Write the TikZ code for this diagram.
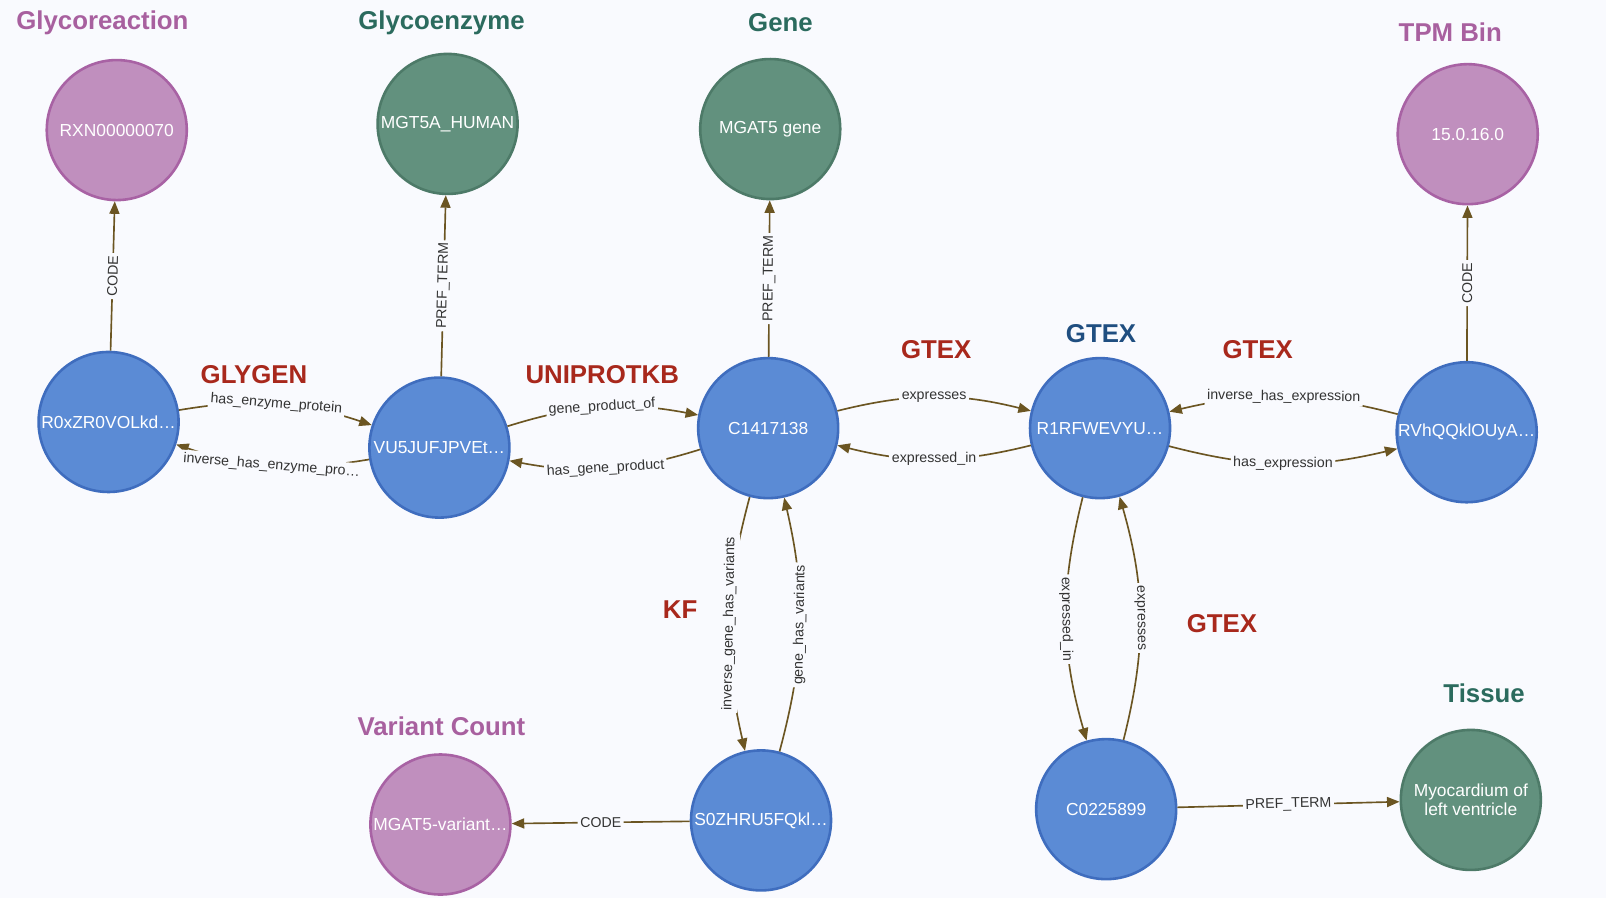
\documentclass[tikz,border=0pt]{standalone}
\usepackage{fontspec}
\setmainfont{Liberation Sans}
\usetikzlibrary{arrows.meta}
\definecolor{bgc}{HTML}{F9FAFE}
\definecolor{bfill}{HTML}{5B8BD5}
\definecolor{bdraw}{HTML}{3F6DBE}
\definecolor{pfill}{HTML}{C08FBE}
\definecolor{pdraw}{HTML}{A862A4}
\definecolor{gfill}{HTML}{62917E}
\definecolor{gdraw}{HTML}{4D7A68}
\definecolor{edgec}{HTML}{6B5522}
\definecolor{tred}{HTML}{A8281C}
\definecolor{tpurple}{HTML}{A8609F}
\definecolor{tteal}{HTML}{2B6B5E}
\definecolor{tblue}{HTML}{1F4E80}
\definecolor{labc}{HTML}{333333}
\tikzset{
  circ/.style={circle, minimum size=140pt, inner sep=0pt, line width=2.6pt, text=white,
    font=\fontsize{17.4}{19.5}\selectfont, align=center},
  bnode/.style={circ, fill=bfill, draw=bdraw},
  pnode/.style={circ, fill=pfill, draw=pdraw},
  gnode/.style={circ, fill=gfill, draw=gdraw},
  ttl/.style={font=\fontsize{25.8}{28}\selectfont\bfseries, inner sep=0pt},
  edge/.style={draw=edgec, line width=1.65pt, -{Triangle[length=12.5pt,width=10pt]}},
  elab/.style={fill=bgc, text=labc, font=\fontsize{14.2}{16}\selectfont, inner sep=2.5pt, sloped}
}
\begin{document}
\begin{tikzpicture}[x=1.0242pt,y=1.0242pt]
\useasboundingbox (0,0) rectangle (1568,-876.8);
\fill[bgc] (0,0) rectangle (1568,-876.8);

% nodes
\node[pnode] (rxn) at (114,-127) {RXN00000070};
\node[gnode] (mgt) at (437,-121) {MGT5A\_HUMAN};
\node[gnode] (gene) at (752,-126) {MGAT5 gene};
\node[pnode] (tpm) at (1433,-131) {15.0.16.0};
\node[bnode] (r0x) at (106,-412) {R0xZR0VOLkd…};
\node[bnode] (vu5) at (429,-437) {VU5JUFJPVEt…};
\node[bnode] (c14) at (750,-418) {C1417138};
\node[bnode] (r1r) at (1074,-418) {R1RFWEVYU…};
\node[bnode] (rvh) at (1432,-422) {RVhQQklOUyA…};
\node[bnode] (s0z) at (743,-801) {S0ZHRU5FQkl…};
\node[pnode] (var) at (430,-805) {MGAT5-variant…};
\node[bnode] (c02) at (1080,-790) {C0225899};
\node[gnode] (myo) at (1436,-781) {Myocardium of\\left ventricle};

% titles
\node[ttl, text=tpurple] (t1) at (100,-22) {Glycoreaction};
\node[ttl, text=tteal] (t2) at (431,-22) {Glycoenzyme};
\node[ttl, text=tteal] (t3) at (762,-22) {Gene};
\node[ttl, text=tpurple] (t4) at (1416,-31) {TPM Bin};
\node[ttl, text=tred] (t5) at (248,-366) {GLYGEN};
\node[ttl, text=tred] (t6) at (588,-366) {UNIPROTKB};
\node[ttl, text=tred] (t7) at (914,-341) {GTEX};
\node[ttl, text=tblue] (t8) at (1075,-326) {GTEX};
\node[ttl, text=tred] (t9) at (1228,-341) {GTEX};
\node[ttl, text=tred] (t10) at (664,-595) {KF};
\node[ttl, text=tred] (t11) at (1193,-609) {GTEX};
\node[ttl, text=tpurple] (t12) at (431,-709) {Variant Count};
\node[ttl, text=tteal] (t13) at (1449,-677) {Tissue};

% straight edges
\draw[edge] (r0x) -- node[elab] {CODE} (rxn);
\draw[edge] (vu5) -- node[elab] {PREF\_TERM} (mgt);
\draw[edge] (c14) -- node[elab] {PREF\_TERM} (gene);
\draw[edge] (rvh) -- node[elab] {CODE} (tpm);
\draw[edge] (s0z) -- node[elab] {CODE} (var);
\draw[edge] (c02) -- node[elab] {PREF\_TERM} (myo);

% curved pairs
\draw[edge] (r0x) to[bend left=14] node[elab] {has\_enzyme\_protein} (vu5);
\draw[edge] (vu5) to[bend left=14] node[elab] {inverse\_has\_enzyme\_pro…} (r0x);
\draw[edge] (vu5) to[bend left=14] node[elab] {gene\_product\_of} (c14);
\draw[edge] (c14) to[bend left=14] node[elab] {has\_gene\_product} (vu5);
\draw[edge] (c14) to[bend left=14] node[elab] {expresses} (r1r);
\draw[edge] (r1r) to[bend left=14] node[elab] {expressed\_in} (c14);
\draw[edge] (rvh) to[bend right=14] node[elab] {inverse\_has\_expression} (r1r);
\draw[edge] (r1r) to[bend right=14] node[elab] {has\_expression} (rvh);
\draw[edge] (c14) to[bend right=14] node[elab] {inverse\_gene\_has\_variants} (s0z);
\draw[edge] (s0z) to[bend right=14] node[elab] {gene\_has\_variants} (c14);
\draw[edge] (r1r) to[bend right=15] node[elab] {expressed\_in} (c02);
\draw[edge] (c02) to[bend right=15] node[elab] {expresses} (r1r);
\end{tikzpicture}
\end{document}
